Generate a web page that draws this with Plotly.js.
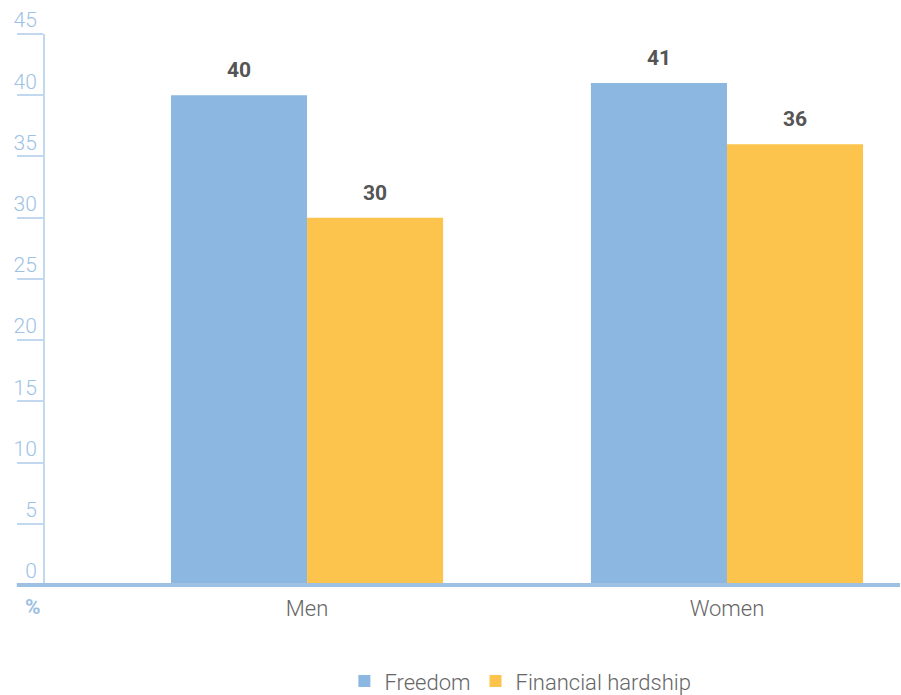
<!DOCTYPE html>
<html>
<head>
<meta charset="utf-8">
<script src="https://cdn.plot.ly/plotly-3.0.1.min.js"></script>
<style>html,body{margin:0;padding:0;background:#fff}#chart{width:901px;height:695px}</style>
</head>
<body>
<div id="chart"></div>
<script>
var categories = ["Men", "Women"];
var seriesNames = ["Freedom", "Financial hardship"];
var freedom = [40, 41];
var hardship = [30, 36];
var yTicks = [0, 5, 10, 15, 20, 25, 30, 35, 40, 45];

var colors = ["#8bb7e0", "#fdc44d"];
var values = [freedom, hardship];
var offsets = [-68, 68];

var traces = values.map(function (v, i) {
  return {
    type: "bar",
    name: seriesNames[i],
    x: categories,
    y: v,
    marker: { color: colors[i], line: { width: 0 } },
    hoverinfo: "none"
  };
});

var annotations = [];
values.forEach(function (v, i) {
  v.forEach(function (val, j) {
    annotations.push({
      x: categories[j], y: val, xref: "x", yref: "y",
      text: String(val), showarrow: false,
      xanchor: "center", yanchor: "bottom",
      xshift: offsets[i], yshift: 11,
      font: { family: "Roboto, Liberation Sans, sans-serif", size: 21, color: "#555555", weight: 700 }
    });
  });
});
annotations.push({
  x: -0.014, y: -0.04, xref: "paper", yref: "paper",
  text: "%", showarrow: false, xanchor: "center", yanchor: "middle",
  font: { family: "Roboto, Liberation Sans, sans-serif", size: 21, color: "#9dc0e3", weight: 700 }
});

var layout = {
  width: 901, height: 695,
  margin: { l: 45, r: 1, t: 34, b: 110, autoexpand: false },
  paper_bgcolor: "#ffffff", plot_bgcolor: "#ffffff",
  barmode: "group",
  bargap: 0.352, bargroupgap: 0,
  font: { family: "Roboto, Liberation Sans, sans-serif", color: "#666666" },
  xaxis: {
    type: "category",
    range: [-0.624, 1.412],
    showline: false, showgrid: false, zeroline: false,
    ticks: "", ticklabelstandoff: 8, automargin: false,
    tickfont: { size: 22, color: "#666666", weight: 300 }
  },
  yaxis: {
    range: [0, 45],
    tickvals: yTicks,
    showgrid: false, zeroline: false, automargin: false,
    showline: true, linecolor: "#c2d8ee", linewidth: 2,
    ticks: "outside", ticklen: 26, tickwidth: 2, tickcolor: "#c2d8ee",
    ticklabelposition: "outside",
    ticklabelshift: -14, ticklabelstandoff: -24,
    tickfont: { size: 21, color: "#9ec2e6", weight: 300 }
  },
  shapes: [{
    type: "line", xref: "paper", yref: "paper", layer: "above",
    x0: -0.033, x1: 1, y0: 0, y1: 0,
    line: { color: "#9dc0e3", width: 4 }
  }],
  legend: {
    orientation: "h",
    x: 0.556, xanchor: "center",
    yref: "container", y: 0.05, yanchor: "top",
    font: { size: 22, color: "#666666", weight: 300 },
    itemwidth: 30
  },
  annotations: annotations,
  showlegend: true
};

Plotly.newPlot("chart", traces, layout, { displayModeBar: false, staticPlot: true });
</script>
</body>
</html>
